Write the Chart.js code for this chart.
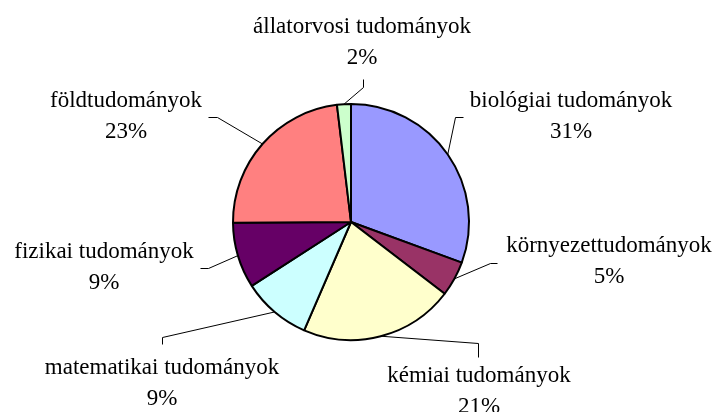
<!DOCTYPE html>
<html lang="hu">
<head>
    <meta charset="UTF-8">
    <title>Tudományterületek</title>
    <style>
        body {
            margin: 0;
            background: #ffffff;
        }
        .chart-container {
            position: relative;
            width: 723px;
            height: 412px;
        }
    </style>
    <script src="https://cdn.jsdelivr.net/npm/chart.js@4.4.0/dist/chart.umd.min.js"></script>
</head>
<body>
    <div class="chart-container">
        <canvas id="pie"></canvas>
    </div>
    <script>
        // data, clockwise from 12 o'clock
        const categories = [
            'biológiai tudományok',
            'környezettudományok',
            'kémiai tudományok',
            'matematikai tudományok',
            'fizikai tudományok',
            'földtudományok',
            'állatorvosi tudományok'
        ];
        const shares = [30.6, 4.8, 21.1, 9.4, 9.0, 23.2, 1.9];
        const colors = ['#9999FF', '#993366', '#FFFFCC', '#CCFFFF', '#660066', '#FF8080', '#CCFFCC'];

        // label placement: text centre x, first baseline y, leader elbow and end
        const labelLayout = [
            { x: 571, y: 107, elbow: [455, 117], end: [463, 117] },
            { x: 609, y: 252, elbow: [490, 263], end: [497, 263] },
            { x: 479, y: 382, elbow: [478, 343], end: [478, 357] },
            { x: 162, y: 374, elbow: [162, 337], end: [162, 344] },
            { x: 104, y: 258, elbow: [208, 268], end: [200, 268] },
            { x: 126, y: 107, elbow: [217, 117], end: [208, 117] },
            { x: 362, y: 33, elbow: [363, 87], end: [363, 79] }
        ];

        const outsideLabels = {
            id: 'outsideLabels',
            afterDatasetsDraw(chart) {
                const ctx = chart.ctx;
                const arcs = chart.getDatasetMeta(0).data;
                const total = shares.reduce((a, b) => a + b, 0);
                ctx.save();
                ctx.strokeStyle = '#000000';
                ctx.lineWidth = 1;
                ctx.fillStyle = '#000000';
                ctx.font = '23px "Liberation Serif", "Times New Roman", serif';
                ctx.textAlign = 'center';
                ctx.textBaseline = 'alphabetic';
                arcs.forEach((arc, i) => {
                    const p = arc.getProps(['x', 'y', 'startAngle', 'endAngle', 'outerRadius'], true);
                    const mid = (p.startAngle + p.endAngle) / 2;
                    const sx = p.x + Math.cos(mid) * p.outerRadius;
                    const sy = p.y + Math.sin(mid) * p.outerRadius;
                    const lay = labelLayout[i];
                    ctx.beginPath();
                    ctx.moveTo(sx, sy);
                    ctx.lineTo(lay.elbow[0] + 0.5, lay.elbow[1] + 0.5);
                    ctx.lineTo(lay.end[0] + 0.5, lay.end[1] + 0.5);
                    ctx.stroke();
                    const pct = Math.round(shares[i] / total * 100) + '%';
                    ctx.fillText(categories[i], lay.x, lay.y);
                    ctx.fillText(pct, lay.x, lay.y + 31);
                });
                ctx.restore();
            }
        };

        new Chart(document.getElementById('pie'), {
            type: 'pie',
            data: {
                labels: categories,
                datasets: [{
                    data: shares,
                    backgroundColor: colors,
                    borderColor: '#000000',
                    borderWidth: 2
                }]
            },
            options: {
                responsive: true,
                maintainAspectRatio: false,
                animation: false,
                layout: {
                    padding: { left: 232, right: 253, top: 103, bottom: 71 }
                },
                plugins: {
                    legend: { display: false },
                    tooltip: { enabled: false }
                }
            },
            plugins: [outsideLabels]
        });
    </script>
</body>
</html>
